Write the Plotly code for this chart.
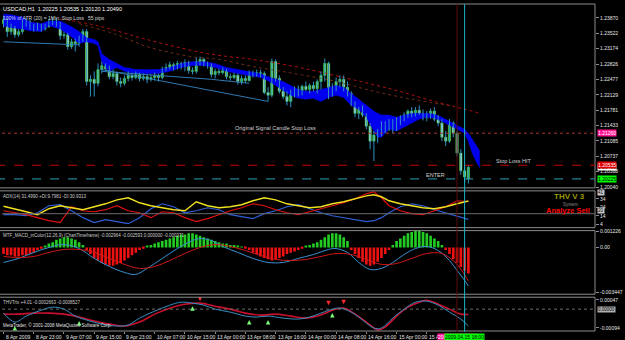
import plotly.graph_objects as go

# ---------------- data: USDCAD H1 candles ----------------
bar_idx = list(range(124))
open_ = [1.2374,1.2383,1.2356,1.2365,1.2349,1.2356,1.2374,1.2378,1.2367,1.2362,
         1.2369,1.2362,1.2367,1.2376,1.2380,1.2374,1.2347,1.2349,1.2322,1.2333,
         1.2329,1.2338,1.2356,1.2243,1.2248,1.2239,1.2270,1.2279,1.2272,1.2254,
         1.2261,1.2243,1.2239,1.2250,1.2257,1.2252,1.2259,1.2250,1.2254,1.2248,
         1.2252,1.2257,1.2252,1.2270,1.2275,1.2281,1.2275,1.2284,1.2277,1.2286,
         1.2268,1.2266,1.2288,1.2293,1.2284,1.2279,1.2259,1.2266,1.2263,1.2268,
         1.2254,1.2252,1.2257,1.2243,1.2250,1.2245,1.2261,1.2259,1.2263,1.2261,
         1.2218,1.2212,1.2288,1.2250,1.2221,1.2209,1.2198,1.2216,1.2225,1.2216,
         1.2232,1.2225,1.2234,1.2227,1.2243,1.2257,1.2284,1.2221,1.2230,1.2243,
         1.2248,1.2230,1.2216,1.2194,1.2171,1.2180,1.2167,1.2142,1.2108,1.2122,
         1.2128,1.2144,1.2135,1.2149,1.2135,1.2155,1.2162,1.2167,1.2176,1.2169,
         1.2178,1.2171,1.2162,1.2169,1.2176,1.2158,1.2149,1.2117,1.2108,1.2149,
         1.2126,1.2081,1.2041,1.20225]
high = [1.2392,1.2387,1.2374,1.2369,1.2362,1.2383,1.2387,1.2383,1.2374,1.2376,
        1.2374,1.2374,1.2385,1.2389,1.2387,1.2378,1.2356,1.2353,1.2340,1.2340,
        1.2347,1.2362,1.2362,1.2257,1.2266,1.2284,1.2288,1.2284,1.2279,1.2270,
        1.2266,1.2252,1.2257,1.2266,1.2263,1.2266,1.2263,1.2261,1.2259,1.2259,
        1.2263,1.2261,1.2277,1.2284,1.2288,1.2286,1.2290,1.2288,1.2293,1.2290,
        1.2275,1.2297,1.2299,1.2297,1.2288,1.2284,1.2272,1.2272,1.2275,1.2272,
        1.2261,1.2263,1.2261,1.2257,1.2257,1.2268,1.2268,1.2270,1.2270,1.2266,
        1.2230,1.2295,1.2293,1.2257,1.2230,1.2221,1.2225,1.2232,1.2234,1.2236,
        1.2243,1.2239,1.2243,1.2248,1.2266,1.2295,1.2288,1.2239,1.2252,1.2257,
        1.2257,1.2243,1.2221,1.2198,1.2185,1.2189,1.2171,1.2149,1.2131,1.2135,
        1.2153,1.2153,1.2158,1.2158,1.2162,1.2167,1.2173,1.2180,1.2185,1.2185,
        1.2189,1.2180,1.2176,1.2182,1.2185,1.2167,1.2158,1.2131,1.2158,1.2153,
        1.2131,1.2090,1.2052,1.20535]
low = [1.2365,1.2344,1.2349,1.2342,1.2344,1.2351,1.2367,1.2360,1.2356,1.2358,
       1.2356,1.2358,1.2365,1.2371,1.2367,1.2338,1.2340,1.2315,1.2317,1.2311,
       1.2322,1.2333,1.2234,1.2209,1.2209,1.2232,1.2261,1.2266,1.2248,1.2248,
       1.2234,1.2230,1.2234,1.2243,1.2245,1.2248,1.2243,1.2245,1.2239,1.2243,
       1.2245,1.2243,1.2248,1.2266,1.2270,1.2268,1.2270,1.2270,1.2266,1.2261,
       1.2259,1.2261,1.2279,1.2277,1.2272,1.2252,1.2250,1.2257,1.2259,1.2248,
       1.2245,1.2248,1.2236,1.2236,1.2239,1.2243,1.2252,1.2254,1.2252,1.2214,
       1.2198,1.2207,1.2243,1.2216,1.2203,1.2189,1.2185,1.2207,1.2209,1.2212,
       1.2221,1.2216,1.2221,1.2216,1.2225,1.2243,1.2203,1.2209,1.2221,1.2230,
       1.2221,1.2209,1.2187,1.2162,1.2158,1.2162,1.2135,1.2090,1.2063,1.2104,
       1.2119,1.2126,1.2131,1.2126,1.2131,1.2144,1.2153,1.2160,1.2162,1.2164,
       1.2167,1.2155,1.2153,1.2158,1.2153,1.2142,1.2108,1.2097,1.2104,1.2117,
       1.2074,1.2032,1.2014,1.20120]
close = [1.2383,1.2356,1.2365,1.2349,1.2356,1.2374,1.2378,1.2367,1.2362,1.2369,
         1.2362,1.2367,1.2376,1.2380,1.2374,1.2347,1.2349,1.2322,1.2333,1.2329,
         1.2338,1.2356,1.2243,1.2248,1.2239,1.2270,1.2279,1.2272,1.2254,1.2261,
         1.2243,1.2239,1.2250,1.2257,1.2252,1.2259,1.2250,1.2254,1.2248,1.2252,
         1.2257,1.2252,1.2270,1.2275,1.2281,1.2275,1.2284,1.2277,1.2286,1.2268,
         1.2266,1.2288,1.2293,1.2284,1.2279,1.2259,1.2266,1.2263,1.2268,1.2254,
         1.2252,1.2257,1.2243,1.2250,1.2245,1.2261,1.2259,1.2263,1.2261,1.2218,
         1.2212,1.2288,1.2250,1.2221,1.2209,1.2198,1.2216,1.2225,1.2216,1.2232,
         1.2225,1.2234,1.2227,1.2243,1.2257,1.2284,1.2221,1.2230,1.2243,1.2248,
         1.2230,1.2216,1.2194,1.2171,1.2180,1.2167,1.2142,1.2108,1.2122,1.2128,
         1.2144,1.2135,1.2149,1.2135,1.2155,1.2162,1.2167,1.2176,1.2169,1.2178,
         1.2171,1.2162,1.2169,1.2176,1.2158,1.2149,1.2117,1.2108,1.2149,1.2126,
         1.2081,1.2041,1.2027,1.20490]

# ATR stop-loss band (blue cloud)
band_bars = [0,2,5,7,10,12,15,18,20,22,24,25,26,27,28,30,32,35,38,41,44,47,50,53,56,59,62,65,68,70,
             72,74,76,78,80,82,84,86,88,90,92,94,96,98,99,100,101,102,104,106,108,110,112,114,116,118,
             120,122,123,124,125,126]
band_upper = [1.2396,1.2394,1.2389,1.2378,1.2374,1.2380,1.2380,1.2367,1.2356,1.2342,1.2338,1.2333,1.2306,
              1.2299,1.2293,1.2284,1.2275,1.2270,1.2270,1.2270,1.2275,1.2284,1.2288,1.2288,1.2284,1.2275,
              1.2270,1.2266,1.2261,1.2254,1.2248,1.2243,1.2234,1.2225,1.2221,1.2221,1.2225,1.2230,1.2234,
              1.2230,1.2216,1.2203,1.2189,1.2176,1.2171,1.2167,1.2167,1.2167,1.2162,1.2167,1.2171,1.2171,
              1.2171,1.2169,1.2162,1.2153,1.2144,1.2135,1.2126,1.2113,1.2099,1.2086]
band_lower = [1.2369,1.2365,1.2362,1.2358,1.2356,1.2369,1.2362,1.2344,1.2329,1.2333,1.2329,1.2324,1.2288,
              1.2275,1.2266,1.2275,1.2266,1.2261,1.2261,1.2261,1.2266,1.2275,1.2279,1.2279,1.2275,1.2266,
              1.2261,1.2257,1.2252,1.2245,1.2234,1.2225,1.2212,1.2205,1.2203,1.2205,1.2198,1.2207,1.2212,
              1.2207,1.2189,1.2180,1.2162,1.2131,1.2117,1.2117,1.2126,1.2135,1.2131,1.2140,1.2149,1.2158,
              1.2162,1.2160,1.2153,1.2144,1.2135,1.2126,1.2108,1.2081,1.2063,1.2047]

# long moving averages (dotted)
ma1_bars = [15,25,38,54,66,77,90,103,114,124,126]
ma1_vals = [1.2385,1.2369,1.2338,1.2306,1.2293,1.2277,1.2252,1.2225,1.2198,1.2176,1.2171]
ma2_bars = [20,30,38,50,57,66,77,88,98,108,119]
ma2_vals = [1.2374,1.2349,1.2322,1.2299,1.2293,1.2277,1.2261,1.2243,1.2221,1.2203,1.2187]

# trend lines
tl1_bars, tl1_vals = [0,20], [1.2333,1.2326]
tl2_bars, tl2_vals = [26,70], [1.2270,1.2198]
tl3_bars, tl3_vals = [26,55,65], [1.2266,1.2248,1.2239]

sl_original = 1.2126
sl_hit = 1.20535
enter_price = 1.20225
bid_price = 1.20490

price_ticks = [1.23870,1.23522,1.23174,1.22826,1.22477,1.22129,1.21781,1.21433,1.21085,1.20737,1.20388,1.20040]

# ---------------- ADX(14) ----------------
adx_bars = [0,3,6,9,12,15,18,21,24,27,30,33,36,39,42,45,48,51,54,57,60,63,66,69,72,75,78,81,84,87,90,93,96,
            98,100,102,105,108,111,114,117,120,123]
adx_main = [25.3,22.4,18.8,15.3,22.4,25.9,23.5,21.2,24.7,28.2,32.9,35.3,29.4,25.9,23.5,21.2,20.0,30.6,25.9,
            23.5,24.7,27.1,31.8,35.3,32.9,28.2,25.9,23.5,24.7,28.2,30.6,34.1,37.6,38.8,36.5,31.8,28.2,25.9,
            23.5,22.4,24.7,28.2,31.5]
adx_plus = [15.3,15.3,14.1,17.6,25.9,27.1,20.0,11.8,5.9,9.4,7.1,4.7,11.8,22.4,28.2,24.7,17.6,20.0,23.5,
            21.2,15.3,12.9,10.6,16.5,20.0,24.7,27.1,22.4,17.6,14.1,11.8,9.4,7.1,8.2,11.8,17.6,24.7,28.2,
            25.9,21.2,17.6,14.1,9.8]
adx_minus = [20.0,17.6,15.3,11.8,8.2,5.9,24.7,20.0,18.8,21.2,25.9,20.0,17.6,11.8,18.8,17.6,11.8,7.1,10.6,
             15.3,20.0,23.5,28.2,25.9,21.2,17.6,15.3,18.8,22.4,25.9,29.4,34.1,40.0,42.4,35.3,25.9,20.0,16.5,
             15.3,20.0,24.7,31.8,30.9]
adx_ticks = [34,24,14,4]
adx_level = 16.5

# ---------------- MTF MACD ----------------
macd_hist = [-0.0005,-0.0006,-0.0006,-0.0007,-0.0007,-0.0006,-0.0006,-0.0005,-0.0004,-0.0002,-0.0001,
             0.0001,0.0003,0.0004,0.0006,0.0007,0.0008,0.0008,0.0007,0.0006,0.0004,0.0002,
             -0.0002,-0.0005,-0.0008,-0.0010,-0.0012,-0.0013,-0.0014,-0.0014,-0.0013,-0.0012,-0.0010,-0.0008,-0.0006,-0.0004,-0.0002,
             -0.0001,0.0001,0.0002,
             0.0003,0.0004,0.0005,0.0006,0.0007,0.0008,0.0009,0.0010,0.0010,0.0011,0.0011,0.0010,0.0009,0.0008,0.0007,0.0006,
             0.0005,0.0004,0.0003,0.0003,0.0002,0.0002,0.0001,0.00005,
             -0.0001,-0.0002,-0.0004,-0.0005,-0.0007,-0.0008,-0.0009,-0.0010,-0.0009,-0.0008,-0.0007,-0.0005,-0.0004,
             -0.0003,-0.0002,-0.0001,0.0001,0.0002,0.0003,0.0004,0.0006,0.0008,
             0.0010,0.0011,0.0011,0.0010,0.0008,0.0005,
             -0.0002,-0.0005,-0.0008,-0.0011,-0.0013,-0.0014,-0.0013,-0.0011,-0.0008,-0.0005,
             -0.0002,0.0002,0.0005,0.0007,0.0009,0.0011,0.0012,0.0013,0.0013,0.0012,0.0011,0.0009,0.0007,0.0005,0.0002,
             -0.0002,-0.0005,-0.0009,-0.0012,-0.0015,-0.0018,-0.0020]
macd_bars = [0,4,8,12,16,20,24,28,32,35,38,42,46,50,52,55,58,62,66,70,74,78,82,86,88,91,94,97,100,103,
             106,109,112,115,118,120,122,123]
macd_main = [-0.00115,-0.00084,-0.00038,0.0,0.00023,-0.00008,-0.00084,-0.00146,-0.00192,-0.00207,
             -0.00161,-0.00084,-0.00008,0.00054,0.00069,0.00054,0.00008,-0.00038,-0.00084,-0.00115,
             -0.00115,-0.00084,-0.00054,-0.00015,-0.00008,-0.00038,-0.00115,-0.00169,-0.00161,-0.00115,
             -0.00054,-0.00008,0.00008,-0.00023,-0.00100,-0.00176,-0.00253,-0.002964]
sig_bars = [0,4,8,12,16,20,24,28,32,36,40,44,48,52,56,60,64,68,72,76,80,84,88,92,96,100,104,108,112,116,120,123]
macd_signal = [-0.00069,-0.00077,-0.00069,-0.00038,-0.00015,-0.00015,-0.00038,-0.00084,-0.00130,-0.00161,
               -0.00146,-0.00100,-0.00046,0.0,0.00023,0.00008,-0.00023,-0.00061,-0.00092,-0.00100,
               -0.00092,-0.00069,-0.00046,-0.00054,-0.00092,-0.00130,-0.00123,-0.00084,-0.00046,-0.00046,
               -0.00130,-0.002593]
macd_ticks = [0.001226, 0.0, -0.00345]
macd_ticktext = ["0.001226", "0.00", "-0.003447"]

# ---------------- THV Trix ----------------
trix_b_bars = [0,3,6,10,13,16,19,22,26,30,33,36,40,44,47,50,53,56,60,64,67,70,74,78,81,84,87,89,92,95,98,
               100,103,106,109,112,115,118,121,123]
trix_fast = [-0.0002,-0.00065,-0.00035,-0.00005,0.0001,0.0,-0.00035,-0.00055,-0.00075,-0.00085,
             -0.0008,-0.00045,-0.0001,0.0002,0.00035,0.0003,0.0002,0.0,-0.00015,-0.00035,
             -0.0004,-0.00035,-0.00045,-0.0005,-0.0004,-0.0002,0.0,0.00005,-0.00015,-0.00055,
             -0.00095,-0.00095,-0.00045,0.0,0.00035,0.0004,0.0002,-0.00015,-0.0005,-0.00085]
trix_r_bars = [0,4,8,12,16,20,24,28,32,36,40,44,48,52,56,60,64,68,72,76,80,84,87,90,93,96,99,101,104,107,
               110,112,115,118,121,123]
trix_slow = [-0.00025,-0.00025,-0.0002,-0.0002,-0.00025,-0.0004,-0.0006,-0.00075,-0.00085,-0.00065,
             -0.00025,0.00005,0.00025,0.0003,0.00015,0.0,-0.0002,-0.0003,-0.00025,-0.00035,
             -0.00045,-0.0003,-0.00005,0.00005,-0.00025,-0.00065,-0.00105,-0.0009,-0.00035,0.0001,
             0.00035,0.00045,0.00025,0.0,-0.00025,-0.00027]
sell_bars, sell_vals = [52,86,90,112], [0.0004,0.0002,0.00025,0.00055]
buy_bars, buy_vals = [3,20,50,65,70,87], [-0.00085,-0.0006,0.00015,-0.00055,-0.00055,-0.0002]
trix_ticks = [0.00047, -0.00094]
trix_ticktext = ["0.00047", "-0.00094"]

# ---------------- time axis ----------------
time_bars = [0,8,16,24,32,40,48,56,64,72,80,88,96,104,112]
time_text = ["8 Apr 2009","8 Apr 23:00","9 Apr 07:00","9 Apr 15:00","9 Apr 23:00","10 Apr 07:00",
             "10 Apr 15:00","13 Apr 00:00","13 Apr 08:00","13 Apr 16:00","14 Apr 00:00","14 Apr 08:00",
             "14 Apr 16:00","15 Apr 00:00","15 Apr 08:00"]
cursor_bar = 122
signal_bar = 120

# ---------------- figure ----------------
FONT = "Liberation Sans, Arial, sans-serif"
GRAY = "#8c8c8c"
fig = go.Figure()

# blue stop band
fig.add_trace(go.Scatter(x=band_bars, y=band_lower, mode="lines", line=dict(color="#0000ee", width=0.5),
                         yaxis="y", hoverinfo="skip"))
fig.add_trace(go.Scatter(x=band_bars, y=band_upper, mode="lines", line=dict(color="#0000ee", width=0.5),
                         fill="tonexty", fillcolor="#0000ee", yaxis="y", hoverinfo="skip"))
# moving averages
fig.add_trace(go.Scatter(x=ma1_bars, y=ma1_vals, mode="lines", line=dict(color="#b01010", width=1, dash="dot",
                         shape="spline"), yaxis="y"))
fig.add_trace(go.Scatter(x=ma2_bars, y=ma2_vals, mode="lines", line=dict(color="#6e2a18", width=1, dash="dot",
                         shape="spline"), yaxis="y"))
# trend lines
for tb, tv in [(tl1_bars, tl1_vals), (tl2_bars, tl2_vals), (tl3_bars, tl3_vals)]:
    fig.add_trace(go.Scatter(x=tb, y=tv, mode="lines", line=dict(color="#2f78b0", width=1), yaxis="y"))

# candles: wicks
wx, wy = [], []
for i, h, l in zip(bar_idx, high, low):
    wx += [i, i, None]
    wy += [l, h, None]
fig.add_trace(go.Scatter(x=wx, y=wy, mode="lines", line=dict(color="#3090c0", width=1), yaxis="y",
                         hoverinfo="skip"))
# candles: bodies
body_base = [min(o, c) for o, c in zip(open_, close)]
body_len = [max(abs(c - o), 0.00005) for o, c in zip(open_, close)]
body_col = ["#70e070" if c > o else "#eaffea" for o, c in zip(open_, close)]
fig.add_trace(go.Bar(x=bar_idx, y=body_len, base=body_base, width=0.62, marker=dict(color=body_col,
                     line=dict(color="#34c834", width=0.6)), yaxis="y"))

# ADX
fig.add_trace(go.Scatter(x=adx_bars, y=adx_plus, mode="lines", line=dict(color="#2f5fd8", width=1.2), yaxis="y2"))
fig.add_trace(go.Scatter(x=adx_bars, y=adx_minus, mode="lines", line=dict(color="#e01010", width=1.2), yaxis="y2"))
fig.add_trace(go.Scatter(x=adx_bars, y=adx_main, mode="lines", line=dict(color="#f0e020", width=1.4), yaxis="y2"))

# MACD
hist_col = ["#22cc22" if v >= 0 else "#ee1111" for v in macd_hist]
fig.add_trace(go.Bar(x=bar_idx, y=macd_hist, width=0.7, marker=dict(color=hist_col, line=dict(width=0)),
                     yaxis="y3"))
fig.add_trace(go.Scatter(x=macd_bars, y=macd_main, mode="lines", line=dict(color="#3a90d0", width=1,
                         shape="spline"), yaxis="y3"))
fig.add_trace(go.Scatter(x=sig_bars, y=macd_signal, mode="lines", line=dict(color="#d01818", width=1,
                         shape="spline"), yaxis="y3"))

# Trix
fig.add_trace(go.Scatter(x=trix_r_bars, y=trix_slow, mode="lines", line=dict(color="#c8102e", width=1.6,
                         shape="spline"), yaxis="y4"))
fig.add_trace(go.Scatter(x=trix_b_bars, y=trix_fast, mode="lines", line=dict(color="#3a8cc0", width=1,
                         shape="spline"), yaxis="y4"))
fig.add_trace(go.Scatter(x=sell_bars, y=sell_vals, mode="markers", marker=dict(symbol="arrow-down", size=4.5,
                         color="#ff2a2a"), yaxis="y4"))
fig.add_trace(go.Scatter(x=buy_bars, y=buy_vals, mode="markers", marker=dict(symbol="arrow-up", size=4.5,
                         color="#77ff77"), yaxis="y4"))

# ---------------- layout ----------------
D_MAIN = [0.43939, 1.0]
D_ADX = [0.31818, 0.43030]
D_MACD = [0.11515, 0.30909]
D_TRIX = [0.00303, 0.10606]

axis_common = dict(showgrid=False, zeroline=False, side="right", ticks="outside", ticklen=3,
                   tickcolor=GRAY, tickfont=dict(family=FONT, size=5, color="#e6e6e6"), anchor="x",
                   fixedrange=True)
fig.update_layout(
    width=625, height=340, margin=dict(l=2, r=19, t=2, b=8),
    paper_bgcolor="#000000", plot_bgcolor="#000000", showlegend=False, barmode="overlay",
    xaxis=dict(range=[-0.4, 156.5], domain=[0, 1], anchor="y4", showgrid=False, zeroline=False,
               tickvals=time_bars, ticks="outside", ticklen=2, tickcolor=GRAY, showticklabels=False),
    yaxis=dict(domain=D_MAIN, range=[1.200225, 1.24185], tickvals=price_ticks,
               ticktext=[f"{v:.5f}" for v in price_ticks], **axis_common),
    yaxis2=dict(domain=D_ADX, range=[0, 43.5], tickvals=adx_ticks, ticktext=[str(v) for v in adx_ticks],
                **axis_common),
    yaxis3=dict(domain=D_MACD, range=[-0.0036, 0.001302], tickvals=macd_ticks, ticktext=macd_ticktext,
                **axis_common),
    yaxis4=dict(domain=D_TRIX, range=[-0.0011, 0.0006], tickvals=trix_ticks, ticktext=trix_ticktext,
                **axis_common),
)

shapes = []
# panel separators / frame
for d in [D_MAIN, D_ADX, D_MACD, D_TRIX]:
    for yy in d:
        shapes.append(dict(type="line", xref="paper", yref="paper", x0=-0.01, x1=1, y0=yy, y1=yy,
                           line=dict(color=GRAY, width=1)))
    shapes.append(dict(type="line", xref="paper", yref="paper", x0=1, x1=1, y0=d[0], y1=d[1],
                       line=dict(color=GRAY, width=1)))
# object lines
shapes.append(dict(type="line", xref="paper", yref="y", x0=-0.01, x1=1, y0=sl_original, y1=sl_original,
                   line=dict(color="#a83232", width=1, dash="dot")))
shapes.append(dict(type="line", xref="paper", yref="y", x0=-0.01, x1=1, y0=sl_hit, y1=sl_hit,
                   line=dict(color="#c80000", width=1, dash="dash")))
shapes.append(dict(type="line", xref="paper", yref="y", x0=-0.01, x1=1, y0=enter_price, y1=enter_price,
                   line=dict(color="#2aa0b8", width=1, dash="dash")))
# indicator levels
shapes.append(dict(type="line", xref="paper", yref="y2", x0=0, x1=1, y0=adx_level, y1=adx_level,
                   line=dict(color="#6a6a6a", width=1)))
shapes.append(dict(type="line", xref="paper", yref="y4", x0=0, x1=1, y0=0, y1=0,
                   line=dict(color="#6a6a6a", width=1, dash="dot")))
# vertical lines
shapes.append(dict(type="line", xref="x", yref="paper", x0=signal_bar, x1=signal_bar, y0=0, y1=1,
                   line=dict(color="#5c0c0c", width=1)))
shapes.append(dict(type="line", xref="x", yref="paper", x0=cursor_bar, x1=cursor_bar, y0=0, y1=1,
                   line=dict(color="#1eb4c8", width=1)))
fig.update_layout(shapes=shapes)

ann = []
def txt(text, x, y, xref="paper", yref="paper", size=5, color="#e0e0e0", xanchor="left", yanchor="middle",
        bold=False, bg=None, xshift=0, yshift=0):
    a = dict(text=(f"<b>{text}</b>" if bold else text), x=x, y=y, xref=xref, yref=yref, showarrow=False,
             xanchor=xanchor, yanchor=yanchor, font=dict(family=FONT, size=size, color=color),
             xshift=xshift, yshift=yshift, borderpad=0)
    if bg:
        a["bgcolor"] = bg
    ann.append(a)

txt("USDCAD,H1  1.20225 1.20535 1.20120 1.20490", 0, 1, yanchor="top", yshift=-1, size=5.5, color="#ffffff")
txt("100% of ATR (20) = 1Min. Stop Loss   55 pips", 0, 1, yanchor="top", yshift=-10, size=5, color="#d8d8d8")
txt("Original Signal Candle Stop Loss", 61, sl_original, xref="x", yref="y", yanchor="bottom", yshift=1,
    size=5.5, color="#cfcfcf")
txt("Stop Loss HIT", 130, sl_hit, xref="x", yref="y", yanchor="bottom", yshift=0, size=5.5, color="#cfcfcf")
txt("ENTER", 111.5, enter_price, xref="x", yref="y", yanchor="bottom", yshift=0, size=5.5, color="#cfcfcf")
# price-scale highlight labels
txt(f"{sl_original:.5f}", 1, sl_original, yref="y", xshift=2, size=5, color="#ffffff", bg="#ff1493")
txt(f"{bid_price:.5f}", 1, bid_price, yref="y", xshift=2, size=5, color="#000000", bg="#ffffff")
txt(f"{sl_hit:.5f}", 1, sl_hit, yref="y", xshift=2, size=5, color="#ffffff", bg="#e00000")
txt(f"{enter_price:.5f}", 1, enter_price, yref="y", xshift=2, size=5, color="#000000", bg="#00ff00")
# ADX
txt("ADX(14) 31.4990 +DI:9.7981 -DI:30.9313", 0, D_ADX[1], yanchor="top", yshift=-2, size=4.5, color="#cfcfcf")
txt("THV V 3", 0.9288, 0.4145, size=8, color="#9a9a00", bold=True)
txt("System", 0.944, 0.389, size=4.5, color="#8a8a8a")
txt("Analyze Sell", 0.915, 0.371, size=7.5, color="#ff0000", bold=True)
txt("41", 1, 41.2, yref="y2", xshift=2, size=4.5, color="#000000", bg="#c8c8c8")
txt("20", 1, 20.0, yref="y2", xshift=2, size=4.5, color="#000000", bg="#c8c8c8")
# MACD
txt("MTF_MACD_inColor(12,26,9) (ChartTimeframe) -0.002964 -0.002593 0.000000 -0.000371", 0, D_MACD[1],
    yanchor="top", yshift=-1, size=4.5, color="#cfcfcf")
# Trix
txt("THVTrix +4.01 -0.0002663 -0.0008527", 0, D_TRIX[1], yanchor="top", yshift=-2, size=4.5, color="#cfcfcf")
txt("0.00000", 1, 0, yref="y4", xshift=2, size=4.5, color="#000000", bg="#b0b0b0")
txt("MetaTrader, \u00a9 2001-2008 MetaQuotes Software Corp.", 0, 0, yanchor="bottom", yshift=3, size=4.5,
    color="#e0e0e0")
# time axis
for b, t in zip(time_bars, time_text):
    txt(t, b, 0, xref="x", yanchor="top", yshift=-1, xshift=1, size=5, color="#e6e6e6")
txt("2009.04.15 16:00", signal_bar, 0, xref="x", xanchor="center", yanchor="top", yshift=-1, size=5,
    color="#ffffff", bg="#ff1493")
txt("2009.04.15 18:00", cursor_bar, 0, xref="x", xanchor="center", yanchor="top", yshift=-1, size=5,
    color="#000000", bg="#00ff00")
fig.update_layout(annotations=ann)

fig.write_html("out.html")
